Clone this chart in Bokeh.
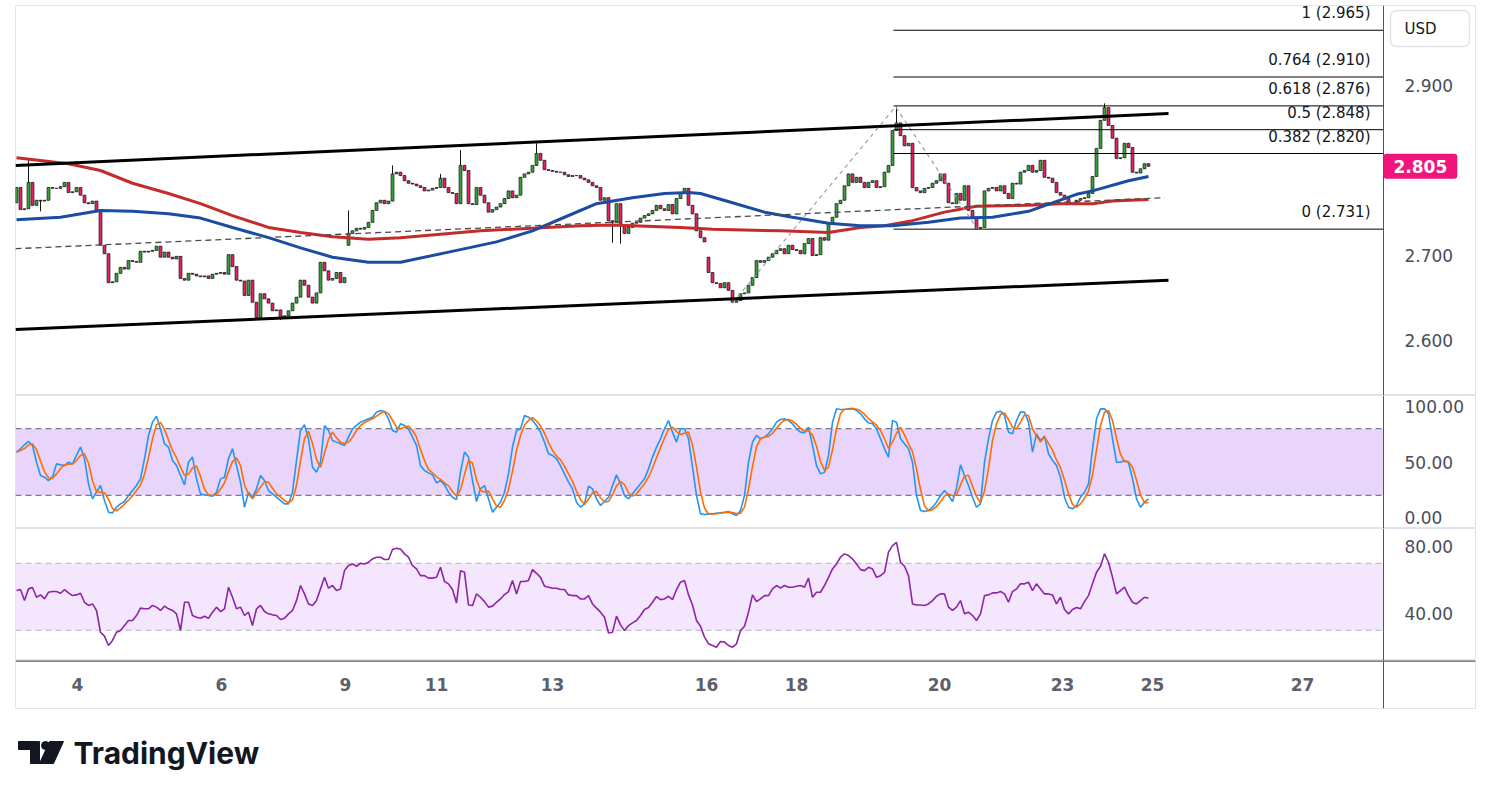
import numpy as np
from bokeh.plotting import figure
from bokeh.layouts import column
from bokeh.models import Range1d, FixedTicker, Label, BoxAnnotation, Span, PrintfTickFormatter, CustomJSTickFormatter, ColumnDataSource
from bokeh.embed import file_html
from bokeh.resources import INLINE
from bokeh.core.properties import value

# ---------------- data ----------------
close = [
    2.780, 2.754, 2.755, 2.786, 2.759, 2.765, 2.764, 2.765, 2.780, 2.779,
    2.779, 2.781, 2.786, 2.774, 2.775, 2.780, 2.771, 2.762, 2.761, 2.764,
    2.753, 2.712, 2.702, 2.668, 2.669, 2.679, 2.686, 2.684, 2.694, 2.693,
    2.692, 2.705, 2.704, 2.705, 2.706, 2.711, 2.698, 2.704, 2.698, 2.696,
    2.699, 2.673, 2.671, 2.679, 2.678, 2.676, 2.675, 2.676, 2.673, 2.678,
    2.679, 2.680, 2.678, 2.701, 2.687, 2.671, 2.670, 2.653, 2.671, 2.645,
    2.627, 2.655, 2.649, 2.644, 2.635, 2.636, 2.626, 2.629, 2.635, 2.644,
    2.651, 2.671, 2.665, 2.651, 2.644, 2.656, 2.692, 2.682, 2.671, 2.673,
    2.680, 2.668, 2.674, 2.726, 2.729, 2.732, 2.731, 2.733, 2.739, 2.753,
    2.762, 2.765, 2.761, 2.764, 2.796, 2.798, 2.794, 2.788, 2.785, 2.784,
    2.782, 2.780, 2.776, 2.777, 2.779, 2.780, 2.791, 2.780, 2.774, 2.773,
    2.761, 2.806, 2.800, 2.761, 2.760, 2.780, 2.771, 2.762, 2.751, 2.754,
    2.757, 2.761, 2.767, 2.776, 2.768, 2.771, 2.792, 2.796, 2.798, 2.806,
    2.820, 2.812, 2.801, 2.800, 2.799, 2.798, 2.798, 2.795, 2.793, 2.794,
    2.794, 2.791, 2.789, 2.786, 2.782, 2.780, 2.765, 2.768, 2.741, 2.739,
    2.761, 2.735, 2.726, 2.733, 2.738, 2.739, 2.744, 2.747, 2.749, 2.753,
    2.759, 2.755, 2.753, 2.760, 2.749, 2.767, 2.774, 2.779, 2.759, 2.749,
    2.729, 2.721, 2.716, 2.680, 2.668, 2.667, 2.662, 2.668, 2.659, 2.645,
    2.647, 2.655, 2.656, 2.665, 2.674, 2.694, 2.692, 2.694, 2.698, 2.702,
    2.706, 2.708, 2.702, 2.712, 2.707, 2.706, 2.702, 2.714, 2.720, 2.700,
    2.701, 2.721, 2.718, 2.738, 2.745, 2.761, 2.765, 2.782, 2.796, 2.786,
    2.792, 2.786, 2.780, 2.786, 2.788, 2.780, 2.781, 2.798, 2.806, 2.847,
    2.856, 2.841, 2.829, 2.832, 2.780, 2.776, 2.774, 2.779, 2.780, 2.785,
    2.788, 2.796, 2.785, 2.762, 2.761, 2.773, 2.765, 2.782, 2.753, 2.744,
    2.732, 2.733, 2.776, 2.779, 2.780, 2.776, 2.782, 2.773, 2.767, 2.785,
    2.784, 2.798, 2.800, 2.806, 2.798, 2.800, 2.812, 2.792, 2.791, 2.786,
    2.774, 2.771, 2.767, 2.761, 2.762, 2.765, 2.767, 2.768, 2.773, 2.793,
    2.826, 2.859, 2.874, 2.853, 2.838, 2.814, 2.815, 2.832, 2.827, 2.798,
    2.797, 2.802, 2.808, 2.805,
]
first_open = 2.762
gap_open_idx = [83, 173]
gap_open_val = [2.712, 2.698]
wick_hi_idx = [3, 83, 94, 106, 111, 130, 220, 272]
wick_hi_val = [2.814, 2.753, 2.806, 2.796, 2.824, 2.832, 2.875, 2.879]
wick_lo_idx = [6, 60, 66, 149, 151, 179, 240]
wick_lo_val = [2.752, 2.624, 2.624, 2.715, 2.714, 2.644, 2.731]

ma_red_idx = [0, 13, 21, 29, 38, 46, 54, 63, 71, 79, 88, 96, 116, 141, 149, 166, 174, 191, 203, 211,
              217, 224, 232, 240, 253, 261, 269, 274, 283]
ma_red_val = [2.815, 2.808, 2.800, 2.785, 2.773, 2.761, 2.747, 2.733, 2.727, 2.722, 2.719, 2.721, 2.729,
              2.735, 2.736, 2.733, 2.731, 2.729, 2.727, 2.733, 2.735, 2.741, 2.751, 2.758, 2.759, 2.761,
              2.761, 2.764, 2.766]
ma_blue_idx = [0, 11, 21, 29, 38, 46, 54, 63, 71, 79, 88, 96, 108, 120, 129, 137, 145, 154, 162, 168,
               171, 179, 187, 194, 203, 211, 219, 228, 236, 244, 253, 259, 265, 269, 278, 283]
ma_blue_val = [2.742, 2.745, 2.753, 2.752, 2.749, 2.744, 2.733, 2.721, 2.709, 2.698, 2.692, 2.692, 2.704,
               2.716, 2.729, 2.745, 2.761, 2.768, 2.773, 2.774, 2.773, 2.762, 2.751, 2.745, 2.738, 2.735,
               2.735, 2.739, 2.744, 2.745, 2.752, 2.762, 2.772, 2.776, 2.788, 2.793]

chan_x = [-0.25, 288]
chan_upper = [2.806, 2.867]
chan_lower = [2.613, 2.671]
mid_x = [-0.25, 287]
mid_y = [2.708, 2.768]

zig_x = [179, 219.75, 240.25]
zig_y = [2.644, 2.875, 2.731]
fib_start = 219.25
fib_ratio = ["1", "0.764", "0.618", "0.5", "0.382", "0"]
fib_price = [2.965, 2.910, 2.876, 2.848, 2.820, 2.731]
last_price = 2.805
currency = "USD"

stoch_k = [
    58.9, 61.9, 65.5, 68.5, 64.9, 49.8, 37.8, 36.3, 33.3, 36.3,
    48.3, 47.4, 46.8, 49.8, 48.3, 55.9, 63.4, 52.9, 30.3, 16.8,
    22.8, 28.8, 15.3, 4.8, 4.2, 9.3, 12.3, 14.4, 19.8, 24.3,
    28.8, 34.8, 52.9, 73.9, 85.9, 91.3, 79.9, 66.4, 63.4, 51.4,
    46.8, 37.8, 29.4, 50.0, 54.4, 34.8, 21.3, 20.4, 19.8, 19.2,
    22.8, 34.8, 36.3, 52.9, 61.9, 46.8, 31.8, 9.3, 22.8, 18.3,
    25.8, 37.8, 33.3, 24.3, 21.3, 18.3, 15.3, 12.3, 12.3, 22.8,
    51.4, 78.4, 83.5, 70.9, 45.3, 40.8, 49.8, 82.9, 78.4, 69.4,
    67.9, 66.4, 64.9, 72.4, 79.9, 82.9, 85.9, 87.4, 88.9, 90.4,
    94.9, 96.4, 95.5, 88.9, 78.4, 76.9, 84.4, 82.9, 79.9, 72.4,
    64.9,
    46.8, 42.3, 40.2, 38.4, 31.2, 33.3, 29.4, 22.8, 18.3, 16.2,
    40.8, 58.9, 54.4, 33.3, 14.4, 25.8, 28.8, 16.8, 4.8, 9.3,
    13.8, 22.8, 39.3, 63.4, 78.4, 79.9, 91.9, 90.4, 87.4, 82.9,
    76.9, 67.9, 57.4, 55.9, 52.9, 46.8, 39.3, 31.8, 25.8, 13.8,
    9.3, 12.3, 28.2, 25.8, 16.8, 10.8, 14.4, 18.3, 28.8, 38.4,
    30.3, 19.8, 16.8, 21.3, 25.8, 30.3, 34.8, 43.8, 54.4, 63.4,
    70.9, 79.9, 87.4, 76.9, 67.9, 79.9, 79.9, 70.9, 45.3, 19.8,
    3.3, 2.7, 3.3, 3.3, 3.9, 4.2, 4.8, 5.4, 3.3, 1.8,
    6.3, 19.8, 49.8, 67.9, 73.9, 70.9, 72.4, 75.4, 79.9, 85.9,
    88.3, 88.9, 87.4, 84.4, 79.9, 76.9,
    76.3, 81.4, 64.9, 46.8, 39.3, 40.8, 55.9, 85.9, 97.9, 97.3,
    97.3, 97.9, 98.5, 96.4, 93.4, 88.9, 85.3, 84.4, 79.9, 70.9,
    61.9, 54.4, 87.4, 85.9, 70.9, 66.4, 61.9, 49.8, 19.8, 6.3,
    5.4, 6.3, 9.3, 13.8, 19.8, 24.3, 19.8, 14.4, 26.4, 47.4,
    37.8, 28.8, 18.3, 9.3, 12.3, 49.8, 70.9, 87.4, 94.9, 95.8,
    91.9, 76.9, 75.4, 87.4, 94.9, 94.9, 85.9, 58.9, 75.4, 69.4,
    73.3, 57.4, 51.4, 46.8, 36.3, 18.3, 9.3, 7.8, 10.8, 18.3,
    22.8, 30.3, 61.9, 88.9, 97.9, 97.9, 93.4, 70.9, 49.8, 49.8,
    51.4, 49.8, 34.8, 16.8, 9.3, 13.8, 16.8,
]

rsi = [
    53.7, 54.3, 47.7, 54.7, 55.5, 49.7, 51.1, 48.7, 52.7, 53.1,
    53.1, 52.1, 54.3, 52.3, 50.7, 51.1, 52.1, 46.7, 44.8, 45.7,
    41.8, 28.8, 26.5, 20.9, 23.9, 28.8, 29.8, 32.8, 35.8, 35.8,
    38.8, 43.2, 42.8, 42.8, 44.8, 43.8, 41.8, 44.4, 42.8, 41.8,
    39.8, 29.8, 46.7, 46.7, 38.8, 37.8, 37.2, 38.4, 37.2, 40.8,
    43.8, 41.2, 42.8, 55.7, 49.7, 42.8, 43.8, 38.8, 40.8, 32.8,
    42.8, 44.8, 41.2, 39.8, 39.2, 38.8, 36.4, 37.2, 39.8, 41.8,
    47.7, 56.7, 51.7, 45.7, 44.8, 47.7, 54.7, 61.6, 55.1, 56.7,
    53.7, 54.7, 65.6, 68.6, 69.6, 68.2, 70.0, 69.6, 70.6, 72.6,
    73.6, 73.6, 72.2, 72.2, 78.2, 78.9, 78.5, 75.6, 73.6, 68.6,
    66.6,
    62.6, 62.6, 61.1, 61.1, 61.6, 67.6, 59.1, 57.7, 54.3, 46.3,
    65.6, 64.6, 45.1, 44.8, 51.7, 49.7, 47.1, 43.8, 44.4, 46.7,
    48.7, 51.3, 53.1, 59.7, 51.7, 59.1, 59.1, 59.7, 66.2, 64.0,
    61.6, 56.3, 55.7, 55.1, 55.1, 54.3, 54.3, 51.1, 50.7, 50.7,
    48.7, 48.7, 50.7, 45.7, 43.2, 40.8, 37.8, 28.4, 28.8, 38.4,
    33.2, 29.8, 32.8, 34.4, 35.8, 38.8, 42.4, 43.6, 46.7, 50.1,
    48.3, 48.7, 50.3, 48.3, 54.3, 58.7, 59.7, 51.1, 45.1, 35.8,
    32.4, 25.9, 21.9, 20.9, 19.9, 23.3, 22.9, 20.9, 19.9, 21.9,
    29.8, 32.4, 40.8, 51.1, 47.1, 48.7, 50.7, 50.7, 54.7, 56.7,
    55.1, 56.7, 55.7, 55.7, 56.3, 56.7,
    55.7, 61.1, 49.7, 52.7, 52.7, 56.7, 61.6, 66.6, 69.6, 73.6,
    75.6, 74.6, 72.6, 69.6, 66.2, 65.6, 67.6, 66.6, 61.6, 62.6,
    64.6, 76.6, 80.5, 82.5, 70.6, 68.2, 62.6, 45.7, 45.1, 45.1,
    44.8, 45.7, 47.7, 50.3, 51.7, 51.7, 43.8, 41.8, 43.8, 47.7,
    39.8, 40.8, 38.8, 35.8, 39.8, 50.7, 51.1, 52.3, 52.3, 53.1,
    51.7, 46.7, 53.1, 54.7, 57.7, 57.7, 58.7, 53.7, 57.7, 54.7,
    51.7, 51.7, 51.1, 45.7, 49.7, 42.4, 39.8, 42.4, 43.6, 42.8,
    47.1, 50.7, 57.7, 64.6, 68.2, 75.6, 70.6, 61.6, 51.7, 53.7,
    55.7, 50.7, 46.7, 45.7, 47.7, 49.7, 49.1,
]

price_ticks = [2.6, 2.7, 2.9]
stoch_ticks = [0, 50, 100]
rsi_ticks = [40, 80]
day_labels = ["4", "6", "9", "11", "13", "16", "18", "20", "23", "25", "27"]
day_pos = [15.25, 51.25, 82.25, 105, 134, 172.5, 195, 230.75, 261.5, 284, 321.5]

# ---------------- derived OHLC ----------------
cl = np.array(close)
n = len(cl)
xs = np.arange(n)
op = np.empty(n)
op[0] = first_open
op[1:] = cl[:-1]
for i, v in zip(gap_open_idx, gap_open_val):
    op[i] = v
hi = np.maximum(op, cl)
lo = np.minimum(op, cl)
for i, v in zip(wick_hi_idx, wick_hi_val):
    hi[i] = max(hi[i], v)
for i, v in zip(wick_lo_idx, wick_lo_val):
    lo[i] = min(lo[i], v)
UP, DN = "#36a336", "#e91e63"
cols = [UP if c >= o else DN for o, c in zip(op, cl)]
src = ColumnDataSource(dict(x=xs, top=np.maximum(op, cl), bot=np.minimum(op, cl), hi=hi, lo=lo, col=cols))

k = np.array(stoch_k)
# %D of the stochastic = 3-bar mean of %K (indicator definition)
d = np.array([k[max(0, i - 2):i + 1].mean() for i in range(len(k))])

# ---------------- layout ----------------
FONT = "DejaVu Sans"
AX = "#50535e"
BORDER = "#e0e3eb"
X_END = 341.75          # right edge of the plotting area (price scale starts here)
xr = Range1d(-0.25, 364.75)   # frame also covers the price-scale column


def base(h, y0, y1, top=0):
    f = figure(frame_width=1460, frame_height=h, x_range=xr, y_range=Range1d(y0, y1),
               output_backend="svg", toolbar_location=None,
               x_axis_location=None, y_axis_location="right",
               min_border_left=15, min_border_right=1, min_border_top=top, min_border_bottom=0,
               background_fill_color="white", border_fill_color="white",
               outline_line_color=BORDER)
    f.grid.visible = False
    f.add_layout(Span(location=X_END, dimension="height", line_color=AX, line_width=1))
    return f


def pane(h, y0, y1, ticks, fmt, top=0):
    f = base(h, y0, y1, top)
    ya = f.yaxis[0]
    ya.ticker = FixedTicker(ticks=ticks)
    ya.formatter = PrintfTickFormatter(format=fmt)
    ya.axis_line_color = None
    ya.major_tick_line_color = None
    ya.minor_tick_line_color = None
    ya.major_label_standoff = -77
    ya.major_label_text_font = FONT
    ya.major_label_text_font_size = "17px"
    ya.major_label_text_color = "#4a4d57"
    return f


# price pane: page y 5..395, 850 px per 1.0 price unit
p = pane(390, 3 - 395 / 850, 3 - 5 / 850, price_ticks, "%.3f", top=5)

p.segment(x0="x", y0="hi", x1="x", y1="lo", source=src, line_color="#151515", line_width=1)
p.vbar(x="x", width=0.72, top="top", bottom="bot", source=src, fill_color="col",
       line_color="#151515", line_width=0.7)

p.line(ma_red_idx, ma_red_val, line_color="#c42b2b", line_width=3)
p.line(ma_blue_idx, ma_blue_val, line_color="#1a4ca3", line_width=3)

p.line(chan_x, chan_upper, line_color="black", line_width=3)
p.line(chan_x, chan_lower, line_color="black", line_width=3)
p.line(mid_x, mid_y, line_color="#4a4a4a", line_width=1.3, line_dash="6 4")
p.line(zig_x, zig_y, line_color="#9a9da6", line_width=1.2, line_dash="4 4")

p.segment(x0=[fib_start] * len(fib_price), y0=fib_price, x1=[X_END] * len(fib_price), y1=fib_price,
          line_color="black", line_width=1)
p.text(x=[338.5] * len(fib_price), y=fib_price,
       text=[f"{r} ({v:.3f})" for r, v in zip(fib_ratio, fib_price)],
       text_align="right", text_baseline="bottom", y_offset=-8,
       text_font=value(FONT), text_font_size="15px", text_color="#131722")

p.add_layout(Label(x=X_END, y=last_price, text=f"{last_price:.3f}", text_align="left",
                   text_baseline="middle", text_color="white", text_font=FONT,
                   text_font_size="17px", text_font_style="bold",
                   background_fill_color="#f0157a", background_fill_alpha=1.0,
                   padding=dict(left=10, right=10, top=6, bottom=6), border_radius=3))
p.add_layout(Label(x=343.5, y=3 - 28 / 850, text=currency, text_align="left", text_baseline="middle",
                   text_color="#131722", text_font=FONT, text_font_size="15px",
                   background_fill_color="white", border_line_color=BORDER, border_line_width=1.5,
                   padding=dict(left=14, right=33, top=9, bottom=9), border_radius=6))

# stochastic pane: page y 395..528
s = pane(133, (517 - 528) / 1.11, (517 - 395) / 1.11, stoch_ticks, "%.2f")
s.add_layout(BoxAnnotation(bottom=20, top=80, left=-0.25, right=X_END, fill_color="#e9d4fc",
                           fill_alpha=1.0, line_alpha=0, level="underlay"))
s.segment(x0=[-0.25, -0.25], y0=[20, 80], x1=[X_END, X_END], y1=[20, 80],
          line_color="#5d606b", line_width=1, line_dash="6 4")
s.line(np.arange(len(k)), k, line_color="#2196f3", line_width=1.6)
s.line(np.arange(len(d)), d, line_color="#ff6d00", line_width=1.6)

# RSI pane: page y 528..660
r = pane(132, 80 - (660 - 546) / 1.675, 80 + (546 - 528) / 1.675, rsi_ticks, "%.2f")
r.add_layout(BoxAnnotation(bottom=30, top=70, left=-0.25, right=X_END, fill_color="#f4e7fd",
                           fill_alpha=1.0, line_alpha=0, level="underlay"))
r.segment(x0=[-0.25, -0.25], y0=[30, 70], x1=[X_END, X_END], y1=[30, 70],
          line_color="#b2b5be", line_width=1, line_dash="6 4")
r.line(np.arange(len(rsi)), rsi, line_color="#8e24aa", line_width=1.6)

# time-axis strip: page y 660..708 (the axis sits on its bottom edge, labels drawn inside)
t = figure(frame_width=1460, frame_height=48, x_range=xr, y_range=Range1d(0, 48),
           output_backend="svg", toolbar_location=None, x_axis_location="below", y_axis_location=None,
           min_border_left=15, min_border_right=1, min_border_top=0, min_border_bottom=1,
           background_fill_color="white", border_fill_color="white", outline_line_color=BORDER)
t.grid.visible = False
t.add_layout(Span(location=X_END, dimension="height", line_color=AX, line_width=1))
t.add_layout(Span(location=47.6, dimension="width", line_color=AX, line_width=1.5))
xa = t.xaxis[0]
xa.ticker = FixedTicker(ticks=day_pos)
xa.formatter = CustomJSTickFormatter(args=dict(labels=day_labels), code="return labels[index];")
xa.axis_line_color = BORDER
xa.major_tick_line_color = None
xa.minor_tick_line_color = None
xa.major_label_standoff = -37
xa.major_label_text_font = FONT
xa.major_label_text_font_size = "17px"
xa.major_label_text_font_style = "bold"
xa.major_label_text_color = "#5d606b"

# logo strip (page coordinates; its frame is aligned at page x 15)
lg = figure(frame_width=1460, frame_height=82, x_range=Range1d(15, 1475), y_range=Range1d(791, 709),
            output_backend="svg", toolbar_location=None, x_axis_location=None, y_axis_location=None,
            min_border_left=15, min_border_right=1, min_border_top=0, min_border_bottom=0,
            outline_line_color=None, background_fill_color="white", border_fill_color="white")
lg.grid.visible = False
lg.patch([18, 39, 39, 30, 30, 18], [741, 741, 763, 763, 749, 749], fill_color="#131722", line_color="#131722")
lg.circle(x=[45], y=[745], radius=4, fill_color="#131722", line_color="#131722")
lg.patch([49, 63, 53, 39], [741, 741, 763, 763], fill_color="#131722", line_color="#131722")
lg.text(x=[73], y=[752], text=["TradingView"], text_font=value("Inter"), text_font_style="bold",
        text_font_size="30px", text_baseline="alphabetic", text_color="#131722")

layout = column(p, s, r, t, lg, spacing=0)
open("out.html", "w").write(file_html(layout, INLINE))
